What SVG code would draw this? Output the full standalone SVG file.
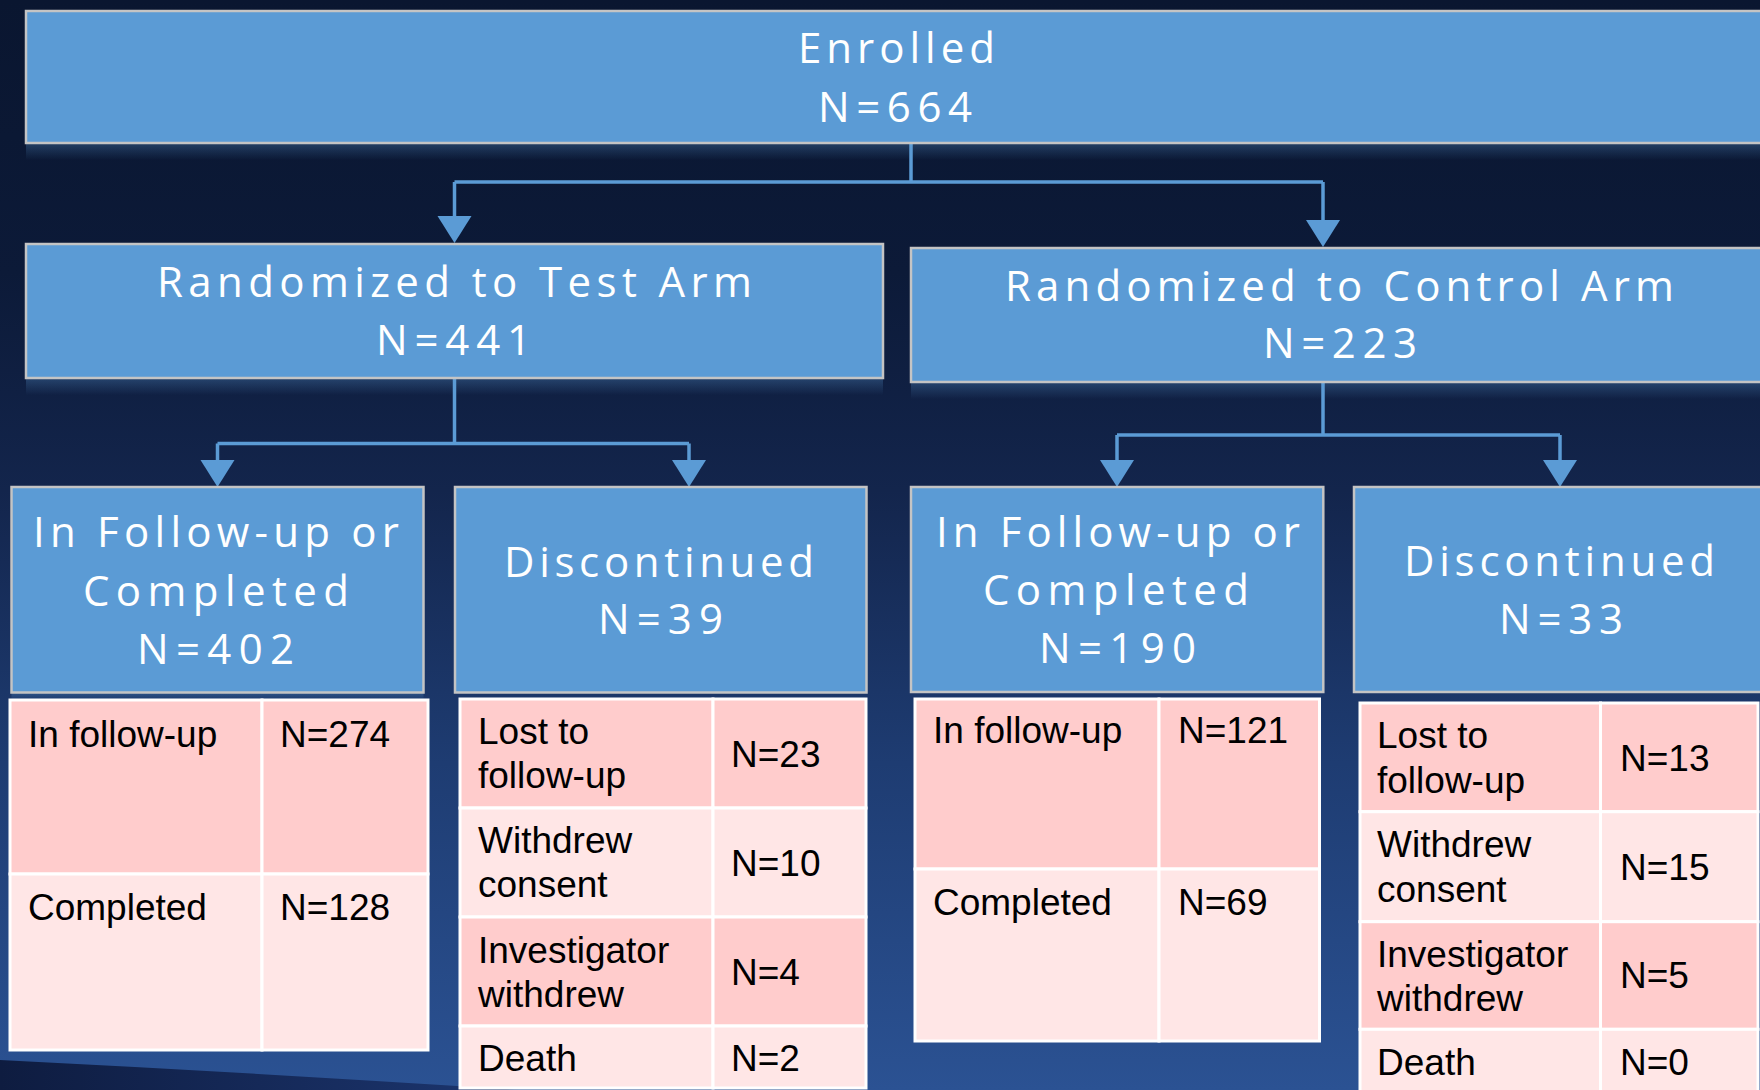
<svg xmlns="http://www.w3.org/2000/svg" width="1760" height="1090" viewBox="0 0 1760 1090">
  <defs>
    <linearGradient id="bg" x1="0" y1="0" x2="0" y2="1">
      <stop offset="0" stop-color="#0a1630"/>
      <stop offset="0.25" stop-color="#0c1a38"/>
      <stop offset="0.45" stop-color="#13254c"/>
      <stop offset="0.7" stop-color="#1e3c72"/>
      <stop offset="1" stop-color="#2b5293"/>
    </linearGradient>
    <linearGradient id="swoosh" x1="0" y1="0" x2="1" y2="0">
      <stop offset="0" stop-color="#0e1c40"/>
      <stop offset="1" stop-color="#1c3670"/>
    </linearGradient>
    <linearGradient id="glow" x1="0" y1="0" x2="0" y2="1">
      <stop offset="0" stop-color="#5b9bd5" stop-opacity="0.28"/>
      <stop offset="1" stop-color="#5b9bd5" stop-opacity="0"/>
    </linearGradient>
    <marker id="arrow" markerUnits="userSpaceOnUse" markerWidth="36" markerHeight="36" refX="17" refY="17" orient="auto" viewBox="0 0 36 36">
      <path d="M0,0 L27,17 L0,34 Z" fill="#5b9bd5"/>
    </marker>
  </defs>
  <style>
    .box { fill: #5b9bd5; stroke: #c4c4c4; stroke-width: 2.5; }
    .glow { fill: url(#glow); }
    .bt { font-family: "Open Sans", Lato, "Liberation Sans", sans-serif; font-size: 42px; fill: #ffffff; }
    .dk { fill: #ffcccc; stroke: #ffffff; stroke-width: 3; }
    .lt { fill: #ffe6e6; stroke: #ffffff; stroke-width: 3; }
    .tt { font-family: "Liberation Sans", Arial, sans-serif; font-size: 37px; fill: #000000; }
    .conn { fill: none; stroke: #5b9bd5; stroke-width: 3.5; stroke-linejoin: round; }
    .arr { fill: none; stroke: #5b9bd5; stroke-width: 3.5; marker-end: url(#arrow); }
  </style>

  <rect x="0" y="0" width="1760" height="1090" fill="url(#bg)"/>
  <path d="M0,1060 Q260,1073 520,1090 L0,1090 Z" fill="url(#swoosh)"/>

  <g id="connectors">
    <path class="conn" d="M911,143 V182"/>
    <path class="conn" d="M454.5,182 H1323"/>
    <path class="arr" d="M454.5,182 V233"/>
    <path class="arr" d="M1323,182 V237"/>
    <path class="conn" d="M454.5,378 V443.5"/>
    <path class="conn" d="M217.5,443.5 H689"/>
    <path class="arr" d="M217.5,443.5 V477"/>
    <path class="arr" d="M689,443.5 V477"/>
    <path class="conn" d="M1323,382 V435"/>
    <path class="conn" d="M1117,435 H1560"/>
    <path class="arr" d="M1117,435 V477"/>
    <path class="arr" d="M1560,435 V477"/>
  </g>

  <g id="enrolled">
    <rect class="glow" x="26" y="144" width="1760" height="16"/>
    <rect class="box" x="26" y="11" width="1760" height="132"/>
    <text class="bt" x="798" y="63" textLength="197">Enrolled</text>
    <text class="bt" x="818" y="122" textLength="154">N=664</text>
  </g>

  <g id="test-arm">
    <rect class="glow" x="26" y="379" width="857" height="16"/>
    <rect class="box" x="26" y="244" width="857" height="134"/>
    <text class="bt" x="157" y="297" textLength="595">Randomized to Test Arm</text>
    <text class="bt" x="376" y="355" textLength="155">N=441</text>
  </g>

  <g id="control-arm">
    <rect class="glow" x="911" y="383" width="870" height="16"/>
    <rect class="box" x="911" y="248" width="870" height="134"/>
    <text class="bt" x="1005" y="301" textLength="669">Randomized to Control Arm</text>
    <text class="bt" x="1263" y="358" textLength="154">N=223</text>
  </g>

  <g id="test-followup">
    <rect class="glow" x="11.5" y="693" width="412" height="8"/>
    <rect class="box" x="11.5" y="487" width="412" height="205.5"/>
    <text class="bt" x="33" y="547" textLength="366">In Follow-up or</text>
    <text class="bt" x="83" y="606" textLength="266">Completed</text>
    <text class="bt" x="137" y="664" textLength="157">N=402</text>
  </g>

  <g id="test-discontinued">
    <rect class="box" x="455" y="487" width="411.5" height="205.5"/>
    <text class="bt" x="504" y="577" textLength="310">Discontinued</text>
    <text class="bt" x="598" y="634" textLength="125">N=39</text>
  </g>

  <g id="control-followup">
    <rect class="box" x="911" y="487" width="412.3" height="205"/>
    <text class="bt" x="936" y="547" textLength="364">In Follow-up or</text>
    <text class="bt" x="983" y="605" textLength="266">Completed</text>
    <text class="bt" x="1039" y="663" textLength="157">N=190</text>
  </g>

  <g id="control-discontinued">
    <rect class="box" x="1354" y="487" width="420" height="205"/>
    <text class="bt" x="1404" y="576" textLength="311">Discontinued</text>
    <text class="bt" x="1499" y="634" textLength="124">N=33</text>
  </g>

  <g id="test-followup-table">
    <rect class="dk" x="10" y="700" width="252" height="174"/>
    <rect class="dk" x="262" y="700" width="166" height="174"/>
    <rect class="lt" x="10" y="874" width="252" height="176"/>
    <rect class="lt" x="262" y="874" width="166" height="176"/>
    <text class="tt" x="28" y="747">In follow-up</text>
    <text class="tt" x="280" y="747">N=274</text>
    <text class="tt" x="28" y="920">Completed</text>
    <text class="tt" x="280" y="920">N=128</text>
  </g>

  <g id="test-discontinued-table">
    <rect class="dk" x="460" y="699" width="253" height="109"/>
    <rect class="dk" x="713" y="699" width="153" height="109"/>
    <rect class="lt" x="460" y="808" width="253" height="109"/>
    <rect class="lt" x="713" y="808" width="153" height="109"/>
    <rect class="dk" x="460" y="917" width="253" height="109"/>
    <rect class="dk" x="713" y="917" width="153" height="109"/>
    <rect class="lt" x="460" y="1026" width="253" height="62"/>
    <rect class="lt" x="713" y="1026" width="153" height="62"/>
    <text class="tt" x="478" y="744">Lost to</text>
    <text class="tt" x="478" y="788">follow-up</text>
    <text class="tt" x="731" y="767">N=23</text>
    <text class="tt" x="478" y="853">Withdrew</text>
    <text class="tt" x="478" y="897">consent</text>
    <text class="tt" x="731" y="876">N=10</text>
    <text class="tt" x="478" y="963">Investigator</text>
    <text class="tt" x="478" y="1007">withdrew</text>
    <text class="tt" x="731" y="985">N=4</text>
    <text class="tt" x="478" y="1071">Death</text>
    <text class="tt" x="731" y="1071">N=2</text>
  </g>

  <g id="control-followup-table">
    <rect class="dk" x="915" y="699" width="244" height="170"/>
    <rect class="dk" x="1159" y="699" width="160.5" height="170"/>
    <rect class="lt" x="915" y="869" width="244" height="172"/>
    <rect class="lt" x="1159" y="869" width="160.5" height="172"/>
    <text class="tt" x="933" y="743">In follow-up</text>
    <text class="tt" x="1178" y="743">N=121</text>
    <text class="tt" x="933" y="915">Completed</text>
    <text class="tt" x="1178" y="915">N=69</text>
  </g>

  <g id="control-discontinued-table">
    <rect class="dk" x="1360" y="703" width="240.5" height="108.7"/>
    <rect class="dk" x="1600.5" y="703" width="157.5" height="108.7"/>
    <rect class="lt" x="1360" y="811.7" width="240.5" height="110"/>
    <rect class="lt" x="1600.5" y="811.7" width="157.5" height="110"/>
    <rect class="dk" x="1360" y="921.7" width="240.5" height="107.6"/>
    <rect class="dk" x="1600.5" y="921.7" width="157.5" height="107.6"/>
    <rect class="lt" x="1360" y="1029.3" width="240.5" height="70"/>
    <rect class="lt" x="1600.5" y="1029.3" width="157.5" height="70"/>
    <text class="tt" x="1377" y="748">Lost to</text>
    <text class="tt" x="1377" y="793">follow-up</text>
    <text class="tt" x="1620" y="771">N=13</text>
    <text class="tt" x="1377" y="857">Withdrew</text>
    <text class="tt" x="1377" y="902">consent</text>
    <text class="tt" x="1620" y="880">N=15</text>
    <text class="tt" x="1377" y="967">Investigator</text>
    <text class="tt" x="1377" y="1011">withdrew</text>
    <text class="tt" x="1620" y="988">N=5</text>
    <text class="tt" x="1377" y="1075">Death</text>
    <text class="tt" x="1620" y="1075">N=0</text>
  </g>
</svg>
